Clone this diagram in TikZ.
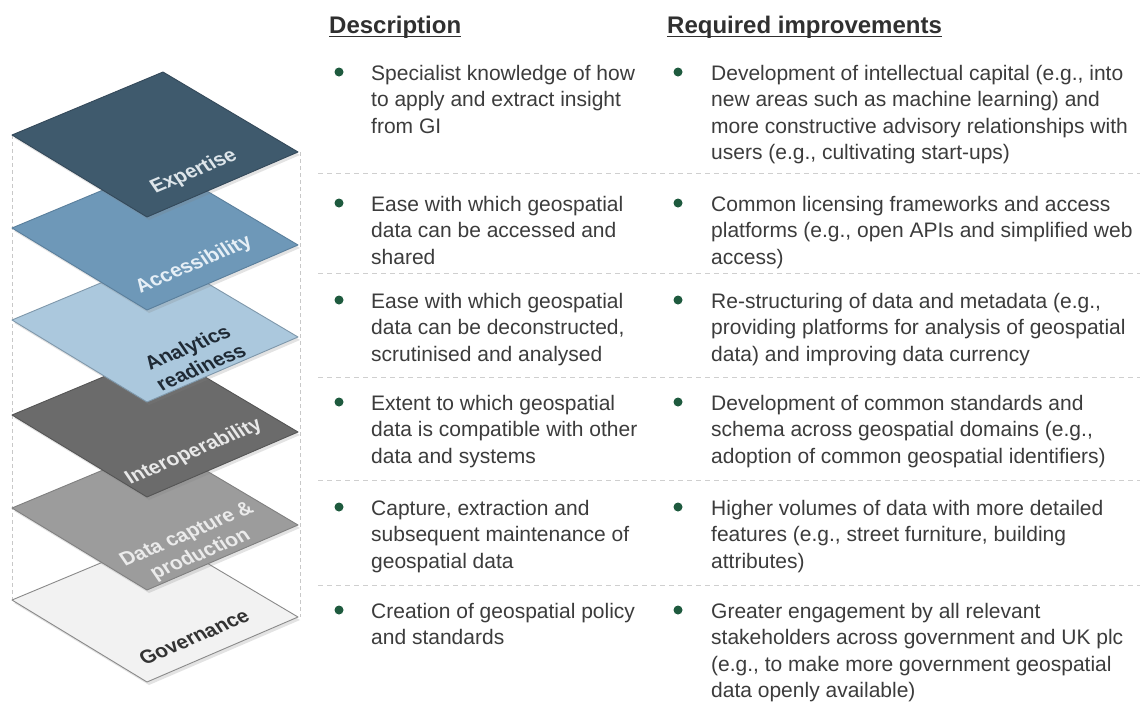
\documentclass[tikz,border=0pt]{standalone}
\usepackage{fontspec}
\setmainfont{Liberation Sans}
\usetikzlibrary{shadows}
\definecolor{txt}{HTML}{3C3C3C}
\definecolor{headc}{HTML}{303030}
\definecolor{bulgreen}{HTML}{1E5A3E}
\definecolor{sepgray}{HTML}{CFCFCF}
\definecolor{vgray}{HTML}{C8C8C8}
\definecolor{expF}{HTML}{3F5A6D}\definecolor{expD}{HTML}{34495A}\definecolor{expT}{HTML}{DDE5EA}
\definecolor{accF}{HTML}{6E98B8}\definecolor{accD}{HTML}{5A7F9C}\definecolor{accT}{HTML}{E6EFF6}
\definecolor{anaF}{HTML}{ABC8DD}\definecolor{anaD}{HTML}{7F98AB}\definecolor{anaT}{HTML}{1F2A35}
\definecolor{intF}{HTML}{6B6B6B}\definecolor{intD}{HTML}{555555}\definecolor{intT}{HTML}{E8E8E8}
\definecolor{datF}{HTML}{9C9C9C}\definecolor{datD}{HTML}{808080}\definecolor{datT}{HTML}{EBEBEB}
\definecolor{govF}{HTML}{F2F2F2}\definecolor{govD}{HTML}{8A8A8A}\definecolor{govT}{HTML}{333333}
\newcommand\cellA[1]{\parbox[t]{300pt}{\raggedright #1}}
\newcommand\cellB[1]{\parbox[t]{430pt}{\raggedright #1}}
\begin{document}
\begin{tikzpicture}[x=1pt,y=-1pt,
  layer/.style={line width=0.9pt, line join=round,
    drop shadow={shadow xshift=2pt, shadow yshift=-3pt, opacity=0.22}},
  lbl/.style={font=\fontsize{20}{23.5}\selectfont\bfseries, align=center,
    rotate=23, xslant=-0.2, inner sep=0},
  body/.style={anchor=base west, inner sep=0, text=txt,
    font=\fontsize{21}{26.5}\selectfont},
  bul/.style={circle, fill=bulgreen, minimum size=9pt, inner sep=0},
  sepline/.style={draw=sepgray, dash pattern=on 5pt off 4pt, line width=1pt},
  vline/.style={draw=vgray, dash pattern=on 4pt off 3pt, line width=0.8pt},
  head/.style={anchor=base west, inner sep=0, text=headc,
    font=\fontsize{24}{28}\selectfont\bfseries}
]
\useasboundingbox (0,0) rectangle (1140,702);
\fill[white] (0,0) rectangle (1140,702);

% layer corner coordinates
\foreach \n/\Y in {exp/135,acc/228,ana/320,int/415,dat/508,gov/600}{
  \coordinate (\n L) at (12,\Y);
  \coordinate (\n T) at (163,\Y-63);
  \coordinate (\n R) at (298,\Y+17);
  \coordinate (\n B) at (147,\Y+82);
  \coordinate (\n C) at (194,\Y+37);
}

% dashed vertical guides
\draw[vline] (expL) -- (govL);
\draw[vline] ([xshift=2pt]expR) -- ([xshift=2pt]govR);

% layers, bottom to top
\path[layer, fill=govF, draw=govD] (govL) -- (govT) -- (govR) -- (govB) -- cycle;
\node[lbl, text=govT] (govlbl) at (govC) {Governance};
\path[layer, fill=datF, draw=datD] (datL) -- (datT) -- (datR) -- (datB) -- cycle;
\node[lbl, text=datT] (datlbl) at (datC) {Data capture \&\\production};
\path[layer, fill=intF, draw=intD] (intL) -- (intT) -- (intR) -- (intB) -- cycle;
\node[lbl, text=intT] (intlbl) at (intC) {Interoperability};
\path[layer, fill=anaF, draw=anaD] (anaL) -- (anaT) -- (anaR) -- (anaB) -- cycle;
\node[lbl, text=anaT] (analbl) at (anaC) {Analytics\\readiness};
\path[layer, fill=accF, draw=accD] (accL) -- (accT) -- (accR) -- (accB) -- cycle;
\node[lbl, text=accT] (acclbl) at (accC) {Accessibility};
\path[layer, fill=expF, draw=expD] (expL) -- (expT) -- (expR) -- (expB) -- cycle;
\node[lbl, text=expT] (explbl) at (expC) {Expertise};

% headings
\node[head] (hdesc) at (329,33) {Description};
\node[head] (himpr) at (667,33) {Required improvements};
\draw[headc, line width=1.4pt] ([yshift=-3.5pt]hdesc.base west) -- ([yshift=-3.5pt]hdesc.base east);
\draw[headc, line width=1.4pt] ([yshift=-3.5pt]himpr.base west) -- ([yshift=-3.5pt]himpr.base east);

% separators
\foreach \s in {173,273,377,480,585}{
  \draw[sepline] (318,\s) -- (1140,\s);
}

% rows
\foreach \r/\b in {1/80,2/211,3/308,4/410,5/515,6/618}{
  \node[bul] (bA\r) at (339,\b-8) {};
  \node[bul] (bB\r) at (678,\b-8) {};
}
\node[body] (dA1) at (371,80) {\cellA{Specialist knowledge of how\\to apply and extract insight\\from GI}};
\node[body] (dB1) at (711,80) {\cellB{Development of intellectual capital (e.g., into\\new areas such as machine learning) and\\more constructive advisory relationships with\\users (e.g., cultivating start-ups)}};
\node[body] (dA2) at (371,211) {\cellA{Ease with which geospatial\\data can be accessed and\\shared}};
\node[body] (dB2) at (711,211) {\cellB{Common licensing frameworks and access\\platforms (e.g., open APIs and simplified web\\access)}};
\node[body] (dA3) at (371,308) {\cellA{Ease with which geospatial\\data can be deconstructed,\\scrutinised and analysed}};
\node[body] (dB3) at (711,308) {\cellB{Re-structuring of data and metadata (e.g.,\\providing platforms for analysis of geospatial\\data) and improving data currency}};
\node[body] (dA4) at (371,410) {\cellA{Extent to which geospatial\\data is compatible with other\\data and systems}};
\node[body] (dB4) at (711,410) {\cellB{Development of common standards and\\schema across geospatial domains (e.g.,\\adoption of common geospatial identifiers)}};
\node[body] (dA5) at (371,515) {\cellA{Capture, extraction and\\subsequent maintenance of\\geospatial data}};
\node[body] (dB5) at (711,515) {\cellB{Higher volumes of data with more detailed\\features (e.g., street furniture, building\\attributes)}};
\node[body] (dA6) at (371,618) {\cellA{Creation of geospatial policy\\and standards}};
\node[body] (dB6) at (711,618) {\cellB{Greater engagement by all relevant\\stakeholders across government and UK plc\\(e.g., to make more government geospatial\\data openly available)}};
\end{tikzpicture}
\end{document}
